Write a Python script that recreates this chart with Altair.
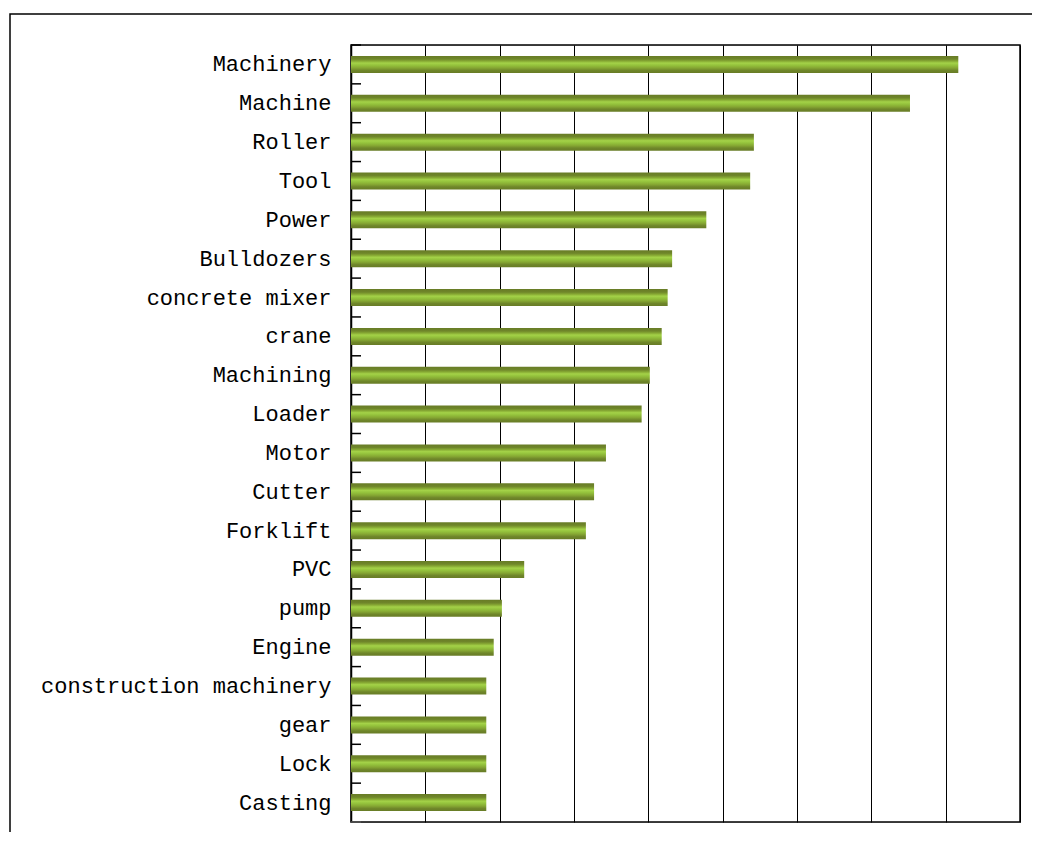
import altair as alt
import pandas as pd

categories = ["Machinery", "Machine", "Roller", "Tool", "Power", "Bulldozers",
              "concrete mixer", "crane", "Machining", "Loader", "Motor", "Cutter",
              "Forklift", "PVC", "pump", "Engine", "construction machinery",
              "gear", "Lock", "Casting"]
values = [8.17, 7.52, 5.42, 5.37, 4.78, 4.32, 4.26, 4.18, 4.02, 3.91, 3.43, 3.27,
          3.16, 2.33, 2.03, 1.92, 1.82, 1.82, 1.82, 1.82]
grid_values = [1, 2, 3, 4, 5, 6, 7, 8, 9]

df = pd.DataFrame({"cat": categories, "val": values})

W, H = 669, 777

xscale = alt.Scale(domain=[0, 9], nice=False, zero=True)
yscale = alt.Scale(domain=categories, paddingInner=0, paddingOuter=0)

gradient = alt.LinearGradient(
    gradient="linear", x1=0, y1=0, x2=0, y2=1,
    stops=[
        alt.GradientStop(offset=0.0, color="#687c26"),
        alt.GradientStop(offset=0.18, color="#6f862a"),
        alt.GradientStop(offset=0.30, color="#86a833"),
        alt.GradientStop(offset=0.42, color="#a4d248"),
        alt.GradientStop(offset=0.55, color="#94c23c"),
        alt.GradientStop(offset=0.70, color="#86a833"),
        alt.GradientStop(offset=0.85, color="#6f862a"),
        alt.GradientStop(offset=1.0, color="#687c26"),
    ],
)

one = pd.DataFrame({"a": [0]})

plot_border = alt.Chart(one).mark_rect(
    fillOpacity=0, stroke="#000000", strokeWidth=1.5
).encode(x=alt.value(0), x2=alt.value(W), y=alt.value(0), y2=alt.value(H))

bars = alt.Chart(df).mark_bar(size=17, color=gradient).encode(
    x=alt.X("val:Q", scale=xscale,
            axis=alt.Axis(values=grid_values, grid=True, gridColor="#000000",
                          gridWidth=1, labels=False, ticks=False, domain=False,
                          title=None)),
    y=alt.Y("cat:N", scale=yscale, sort=categories,
            axis=alt.Axis(title=None, ticks=False, domain=True, domainColor="#000000",
                          domainWidth=1.5, labelFont="Liberation Mono",
                          labelFontSize=22, labelColor="#000000", labelPadding=20,
                          labelLimit=0)),
)

ticks = alt.Chart(df).mark_rule(color="#000000", strokeWidth=1.5).encode(
    y=alt.Y("cat:N", scale=yscale, sort=categories, bandPosition=0),
    x=alt.value(0),
    x2=alt.value(10),
)

bottom_tick = alt.Chart(one).mark_rule(
    color="#555555", strokeWidth=1.5
).encode(y=alt.value(H), x=alt.value(0), x2=alt.value(10))

frame = alt.Chart(one).mark_rect(
    fillOpacity=0, stroke="#000000", strokeWidth=1.5
).encode(x=alt.value(-341), x2=alt.value(720), y=alt.value(-31), y2=alt.value(830))

chart = alt.layer(frame, plot_border, bars, ticks, bottom_tick).properties(
    width=W, height=H,
    padding={"left": 343, "top": 37, "right": 12, "bottom": 10},
    autosize=alt.AutoSizeParams(type="none"),
).configure_view(stroke=None).configure(background="white")

chart.save("out.html", embed_options={"renderer": "svg", "actions": False})
